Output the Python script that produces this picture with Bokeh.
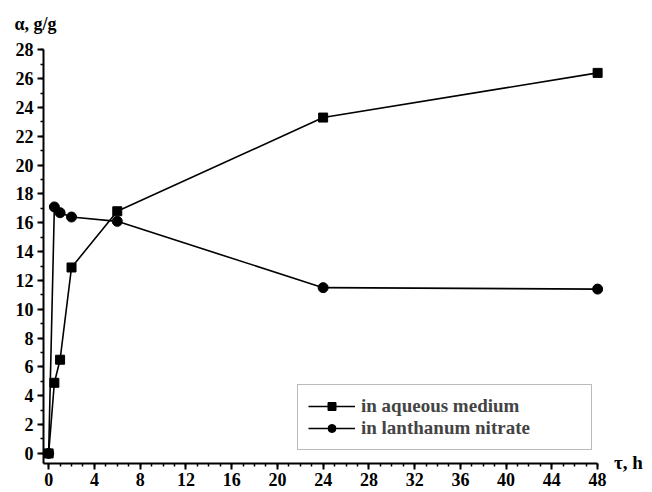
from bokeh.plotting import figure
from bokeh.models import SingleIntervalTicker, Legend, LegendItem, Title
from bokeh.embed import file_html
from bokeh.resources import INLINE

time_aq = [0, 0.5, 1, 2, 6, 24, 48]
alpha_aq = [0, 4.9, 6.5, 12.9, 16.8, 23.3, 26.4]
time_la = [0, 0.5, 1, 2, 6, 24, 48]
alpha_la = [0, 17.1, 16.7, 16.4, 16.1, 11.5, 11.4]

FONT = "Liberation Serif"

p = figure(width=652, height=492, output_backend="svg", toolbar_location=None,
           x_range=(-0.45, 50.7), y_range=(-0.7, 28.3),
           min_border_left=43, min_border_top=45, min_border_right=24, min_border_bottom=29)
p.outline_line_color = None
p.grid.grid_line_color = None

for ax in (p.xaxis[0], p.yaxis[0]):
    ax.axis_line_width = 2
    ax.major_tick_line_width = 2
    ax.minor_tick_line_width = 1.5
    ax.major_tick_in = 0
    ax.major_tick_out = 6
    ax.minor_tick_in = 0
    ax.minor_tick_out = 3
    ax.major_label_text_font = FONT
    ax.major_label_text_font_style = "bold"
    ax.major_label_text_font_size = "18px"
    ax.major_label_text_color = "black"
    ax.axis_line_color = "black"
    ax.major_tick_line_color = "black"
    ax.minor_tick_line_color = "black"

p.xaxis.ticker = SingleIntervalTicker(interval=4, num_minor_ticks=4)
p.yaxis.ticker = SingleIntervalTicker(interval=2, num_minor_ticks=2)
p.xaxis.bounds = (-0.45, 48)
p.yaxis.bounds = (-0.7, 28)
p.xaxis.major_label_standoff = 3
p.yaxis.major_label_standoff = 4

# x-axis title placed at the right end of the axis line
p.xaxis.axis_label = "τ, h"
p.xaxis.axis_label_align = "end"
p.xaxis.axis_label_standoff = -37
p.xaxis.axis_label_text_font = FONT
p.xaxis.axis_label_text_font_style = "bold"
p.xaxis.axis_label_text_font_size = "19px"
p.xaxis.axis_label_text_color = "black"

l1 = p.line(time_aq, alpha_aq, line_color="black", line_width=1.6)
m1 = p.scatter(time_aq, alpha_aq, marker="square", size=9, fill_color="black", line_color="black")
l2 = p.line(time_la, alpha_la, line_color="black", line_width=1.6)
m2 = p.scatter(time_la, alpha_la, marker="circle", size=10, fill_color="black", line_color="black")

legend = Legend(items=[LegendItem(label="in aqueous medium", renderers=[l1, m1]),
                       LegendItem(label="in lanthanum nitrate", renderers=[l2, m2])],
                location=(254, 13))
legend.label_text_font = FONT
legend.label_text_font_style = "bold"
legend.label_text_font_size = "19px"
legend.border_line_color = "#777777"
legend.border_line_width = 1
legend.glyph_width = 47
legend.label_standoff = 6
legend.label_width = 220
legend.spacing = 0
legend.padding = 10
legend.margin = 0
legend.label_height = 20
legend.glyph_height = 20
legend.background_fill_alpha = 1
p.add_layout(legend, "center")

# y-axis title as a left-aligned title above the frame
t = Title(text="α, g/g", align="left", offset=-29, standoff=23,
          text_font=FONT, text_font_style="bold", text_font_size="18px", text_color="black")
p.add_layout(t, "above")

open("out.html", "w").write(file_html(p, INLINE))
